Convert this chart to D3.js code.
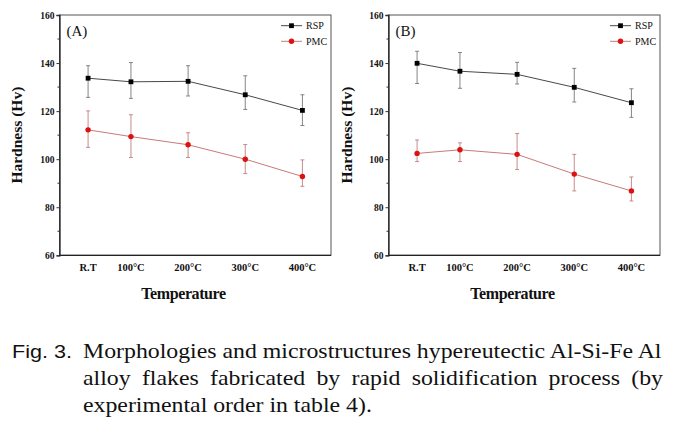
<!DOCTYPE html>
<html><head><meta charset="utf-8">
<script src="https://cdn.jsdelivr.net/npm/d3@7/dist/d3.min.js"></script>
<style>body{margin:0;background:#fff}svg{display:block}</style>
</head><body>
<svg id="c" width="682" height="430"></svg>
<script>
const temps = [25, 100, 200, 300, 400];
const tempLabels = ["R.T", "100°C", "200°C", "300°C", "400°C"];
const yTicks = [60, 80, 100, 120, 140, 160];
const panelTags = ["(A)", "(B)"];
// panel A
const rspA = [133.7, 132.2, 132.4, 126.8, 120.3];
const rspAHi = [138.9, 140.2, 138.9, 134.7, 126.8];
const rspALo = [125.7, 125.3, 126.3, 120.7, 114.0];
const pmcA = [112.2, 109.4, 106.0, 100.0, 92.8];
const pmcAHi = [120.1, 118.5, 111.0, 106.1, 99.7];
const pmcALo = [104.9, 100.7, 100.7, 94.0, 88.7];
// panel B
const rspB = [139.9, 136.6, 135.3, 129.9, 123.5];
const rspBHi = [144.9, 144.4, 140.3, 137.8, 129.3];
const rspBLo = [131.5, 129.5, 131.3, 123.8, 117.4];
const pmcB = [102.4, 103.9, 102.0, 93.8, 86.8];
const pmcBHi = [108.0, 106.8, 110.7, 102.0, 92.6];
const pmcBLo = [99.0, 99.0, 95.7, 86.8, 82.6];
const captionLines = [
  "Morphologies and microstructures hypereutectic Al-Si-Fe Al",
  "alloy flakes fabricated by rapid solidification process (by",
  "experimental order in table 4)."
];

const svg = d3.select("#c");
const serif = "Liberation Serif";
const sans = "Liberation Sans";

const panels = [
  {x0: 59.5, tag: panelTags[0], rsp: [rspA, rspAHi, rspALo], pmc: [pmcA, pmcAHi, pmcALo], ylabX: 22},
  {x0: 388.5, tag: panelTags[1], rsp: [rspB, rspBHi, rspBLo], pmc: [pmcB, pmcBHi, pmcBLo], ylabX: 352}
];
const W = 271.5, yTop = 15, yBot = 255.3;

panels.forEach(p => {
  const x = d3.scaleLinear().domain([-25, 450]).range([p.x0, p.x0 + W]);
  const y = d3.scaleLinear().domain([60, 160]).range([yBot, yTop]);
  const g = svg.append("g");
  g.append("rect").attr("x", p.x0).attr("y", yTop).attr("width", W).attr("height", yBot - yTop)
    .attr("fill", "none").attr("stroke", "#555").attr("stroke-width", 1);
  const ya = g.append("g").attr("transform", `translate(${p.x0},0)`)
    .call(d3.axisLeft(y).tickValues(yTicks).tickSize(3).tickPadding(2).tickFormat(d3.format("d")));
  ya.attr("font-family", null).attr("font-size", null);
  ya.select(".domain").attr("stroke", "#222").attr("stroke-width", 1.3);
  ya.selectAll("text").style("font-family", serif).style("font-weight", "bold").style("font-size", "9.5px").attr("fill", "#111");
  ya.selectAll("line").attr("stroke", "#333");
  const minor = [70, 90, 110, 130, 150];
  g.selectAll(".mn").data(minor).enter().append("line")
    .attr("x1", p.x0 - 2).attr("x2", p.x0).attr("y1", d => y(d)).attr("y2", d => y(d)).attr("stroke", "#333");
  g.append("line").attr("x1", p.x0).attr("x2", p.x0 + W).attr("y1", yBot).attr("y2", yBot)
    .attr("stroke", "#222").attr("stroke-width", 1.3);
  g.selectAll(".xl").data(temps).enter().append("text")
    .attr("x", d => x(d)).attr("y", 270.5).attr("text-anchor", "middle")
    .style("font-family", serif).style("font-weight", "bold").style("font-size", "10.5px").attr("fill", "#111")
    .text((d, i) => tempLabels[i]);
  g.append("text").attr("x", p.x0 + 124).attr("y", 299).attr("text-anchor", "middle")
    .style("font-family", serif).style("font-weight", "bold").style("font-size", "16px").attr("letter-spacing", -0.4)
    .attr("fill", "#111").text("Temperature");
  g.append("text").attr("transform", `translate(${p.ylabX},${(yTop + yBot) / 2}) rotate(-90)`)
    .attr("text-anchor", "middle").style("font-family", serif).style("font-weight", "bold")
    .style("font-size", "15.5px").attr("fill", "#111").text("Hardness (Hv)");
  g.append("text").attr("x", p.x0 + 7).attr("y", 36).style("font-family", serif).style("font-size", "15px")
    .attr("fill", "#111").text(p.tag);

  const series = [
    {d: p.rsp, line: "#333", err: "#777", mark: "#000", shape: "sq", name: "RSP"},
    {d: p.pmc, line: "#c46a6a", err: "#c08080", mark: "#dd1111", shape: "ci", name: "PMC"}
  ];
  series.forEach((s, si) => {
    const [v, hi, lo] = s.d;
    const line = d3.line().x((d, i) => x(temps[i])).y(d => y(d));
    g.append("path").attr("d", line(v)).attr("fill", "none").attr("stroke", s.line).attr("stroke-width", 0.9);
    temps.forEach((t, i) => {
      const cx = x(t);
      g.append("line").attr("x1", cx).attr("x2", cx).attr("y1", y(hi[i])).attr("y2", y(lo[i])).attr("stroke", s.err).attr("stroke-width", 0.9);
      [hi[i], lo[i]].forEach(e => g.append("line").attr("x1", cx - 2).attr("x2", cx + 2).attr("y1", y(e)).attr("y2", y(e)).attr("stroke", s.err).attr("stroke-width", 0.9));
    });
    const drawMark = (cx, cy) => {
      if (s.shape === "sq") g.append("rect").attr("x", cx - 2.4).attr("y", cy - 2.4).attr("width", 4.8).attr("height", 4.8).attr("fill", s.mark);
      else g.append("circle").attr("cx", cx).attr("cy", cy).attr("r", 2.7).attr("fill", s.mark);
    };
    temps.forEach((t, i) => drawMark(x(t), y(v[i])));
    const ly = 25.7 + si * 15.6, lx = p.x0 + 221.5;
    g.append("line").attr("x1", lx).attr("x2", lx + 21).attr("y1", ly).attr("y2", ly).attr("stroke", s.line).attr("stroke-width", 0.9);
    drawMark(lx + 10.5, ly);
    g.append("text").attr("x", lx + 25).attr("y", ly + 3.2).style("font-family", serif).style("font-size", "10px")
      .attr("fill", "#111").text(s.name);
  });
});

// caption
const cap = svg.append("g").attr("fill", "#111");
cap.append("text").attr("x", 12).attr("y", 358).style("font-family", sans).style("font-size", "19px")
  .attr("textLength", 60).attr("lengthAdjust", "spacingAndGlyphs").text("Fig. 3.");
const capY = [358, 385, 411.5];
const capEnd = [662, 663, 382];
const capX = 83;
// horizontal stretch taken from first line at natural spacing
const probe = cap.append("text").style("font-family", serif).style("font-size", "21px").text(captionLines[0]);
const sx = (capEnd[0] - capX) / probe.node().getComputedTextLength();
probe.remove();
captionLines.forEach((t, i) => {
  const el = cap.append("text").attr("transform", `translate(${capX},${capY[i]}) scale(${sx},1)`)
    .style("font-family", serif).style("font-size", "21px").text(t);
  if (i === 1) {
    const len = el.node().getComputedTextLength();
    const n = t.split(" ").length - 1;
    el.attr("word-spacing", ((capEnd[i] - capX) / sx - len) / n);
  }
});
</script>
</body></html>
